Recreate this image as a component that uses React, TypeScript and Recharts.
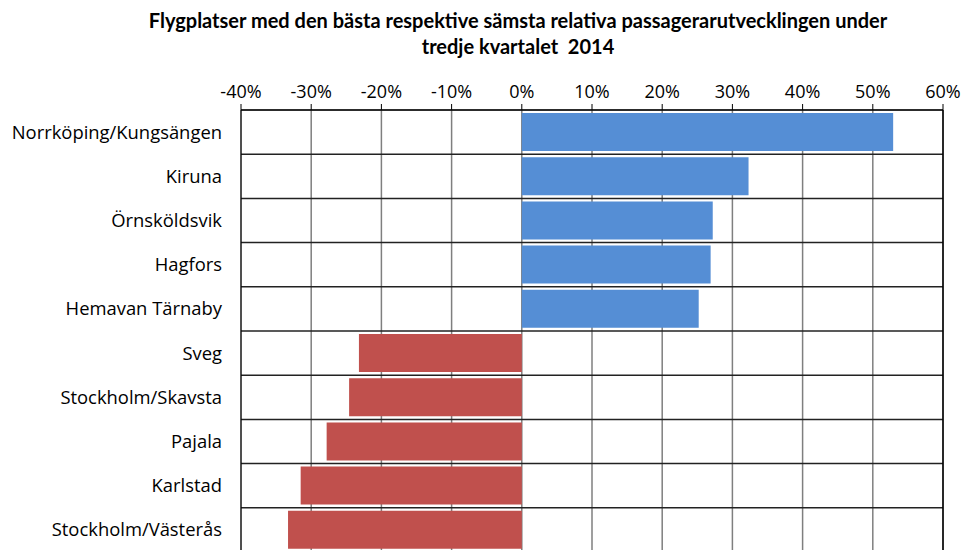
import { BarChart, Bar, XAxis, YAxis, CartesianGrid, Cell, ReferenceLine } from "recharts";

const airports = [
  "Norrköping/Kungsängen",
  "Kiruna",
  "Örnsköldsvik",
  "Hagfors",
  "Hemavan Tärnaby",
  "Sveg",
  "Stockholm/Skavsta",
  "Pajala",
  "Karlstad",
  "Stockholm/Västerås",
];
const change = [0.529, 0.323, 0.272, 0.269, 0.252, -0.232, -0.246, -0.278, -0.315, -0.333];
const xTicks = [-0.4, -0.3, -0.2, -0.1, 0, 0.1, 0.2, 0.3, 0.4, 0.5, 0.6];

const data = airports.map((name, i) => ({ name, value: change[i] }));

const font = "'Open Sans', sans-serif";

// row borders between categories
const rowBorders = ({ offset }: any) =>
  Array.from({ length: airports.length + 1 }, (_, i) => offset.top + (i * offset.height) / airports.length);

export default function App() {
  return (
    <div style={{ position: "absolute", left: 0, top: 0, width: 964, height: 550, overflow: "hidden", background: "#fff" }}>
      <div
        style={{
          position: "absolute",
          top: 7,
          left: 0,
          width: 1036,
          textAlign: "center",
          fontFamily: "Lato, sans-serif",
          fontWeight: 700,
          fontSize: 20,
          lineHeight: "26px",
          color: "#000",
        }}
      >
        Flygplatser med den bästa respektive sämsta relativa passagerarutvecklingen under
        <br />
        tredje kvartalet&nbsp; 2014
      </div>
      <BarChart
        width={964}
        height={560}
        data={data}
        layout="vertical"
        margin={{ top: 60, right: 21, bottom: 8, left: 0 }}
        barCategoryGap={3}
      >
        <CartesianGrid horizontal={false} stroke="#7f7f7f" strokeWidth={1.5} verticalValues={xTicks} />
        <CartesianGrid vertical={false} stroke="#222" strokeWidth={1.5} horizontalCoordinatesGenerator={rowBorders} />
        <XAxis
          type="number"
          orientation="top"
          domain={[-0.4, 0.6]}
          ticks={xTicks}
          tickFormatter={(v: number) => `${Math.round(v * 100)}%`}
          height={50}
          tickSize={6}
          tickMargin={6}
          stroke="#000"
          tick={{ fill: "#000", fontSize: 18, fontFamily: font }}
          allowDataOverflow
        />
        <YAxis
          type="category"
          dataKey="name"
          width={241}
          tickSize={0}
          tickMargin={19}
          stroke="#000"
          tick={{ fill: "#000", fontSize: 18.4, fontFamily: font }}
          interval={0}
        />
        <ReferenceLine x={0.6} stroke="#000" strokeWidth={1.5} />
        <Bar dataKey="value" isAnimationActive={false}>
          {data.map((d, i) => (
            <Cell key={i} fill={d.value >= 0 ? "#558ed5" : "#c0504d"} />
          ))}
        </Bar>
      </BarChart>
    </div>
  );
}
